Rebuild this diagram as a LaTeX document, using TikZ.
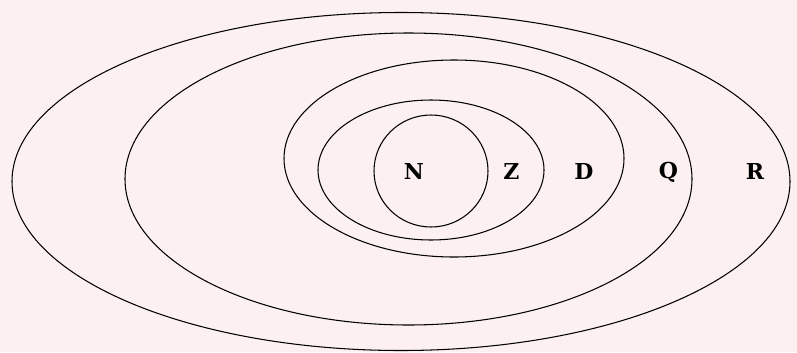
\documentclass[tikz,border=0pt]{standalone}
\usepackage{fontspec}
\usepackage{xcolor}
\newfontfamily\labelfont{DejaVu Serif}
\definecolor{bgpink}{HTML}{FDF0F0}
\tikzset{setlabel/.style={font=\labelfont\bfseries\fontsize{12.5}{15}\selectfont,inner sep=0pt,anchor=base}}

\begin{document}
\begin{tikzpicture}[x=0.02cm,y=-0.02cm]
\fill[bgpink] (0,0) rectangle (797,352);
\useasboundingbox (0,0) rectangle (797,352);
\foreach \cx/\cy/\rx/\ry in {401/181.5/389/169, 408.5/179/283.5/146, 454/158.5/170/98.5, 431/170/113/70, 431/171/57/56} {
  \draw[line width=0.6pt] (\cx,\cy) ellipse [x radius=\rx*0.02cm, y radius=\ry*0.02cm]; }
\node[setlabel] (nat) at (414,179) {N};
\node[setlabel] (int) at (511.5,179) {Z};
\node[setlabel] (dec) at (584,179) {D};
\node[setlabel] (rat) at (668.5,178) {Q};
\node[setlabel] (real) at (755,179) {R};
\end{tikzpicture}
\end{document}
